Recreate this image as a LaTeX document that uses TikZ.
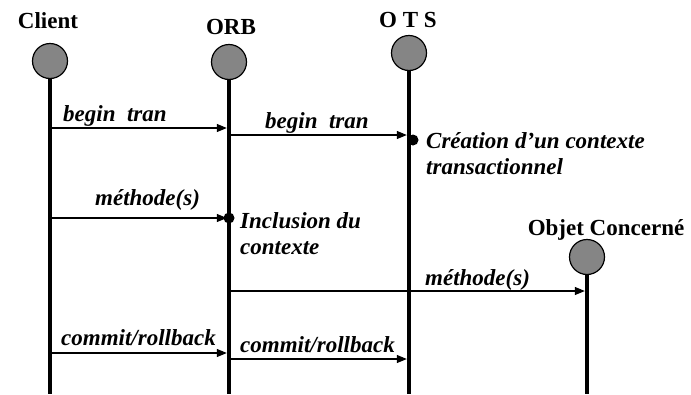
\documentclass[tikz,border=0pt]{standalone}
\usepackage{fontspec}
\setmainfont{Liberation Serif}
\usepackage{tikz}
\usetikzlibrary{arrows.meta, calc}

\begin{document}
\begin{tikzpicture}[x=1pt, y=-1pt,
  head/.style={circle, draw=black, line width=1.2pt, fill=black!48, minimum size=35pt, inner sep=0pt},
  actor/.style={anchor=base, inner sep=0pt, font=\fontsize{23}{25}\selectfont\bfseries},
  msglbl/.style={anchor=base west, inner sep=0pt, font=\fontsize{23}{25}\selectfont\bfseries\itshape},
  note/.style={anchor=base west, inner sep=0pt, align=left, font=\fontsize{23}{25.5}\selectfont\bfseries\itshape},
  life/.style={line width=4.5pt},
  msg/.style={line width=1.1pt, shorten <=2.2pt, shorten >=2.2pt, -{Triangle[length=10pt, width=8pt]}}]
  \useasboundingbox (0,0) rectangle (691,394);
  \coordinate (bottom) at (0,394);

  % Objects
  \node[actor] (clientlbl) at (48,28) {Client};
  \node[actor] (orblbl) at (231,34) {ORB};
  \node[actor] (otslbl) at (408,27) {O T S};
  \node[actor] (objlbl) at (606,235) {Objet Concern\'e};

  \node[head] (client) at (50,61) {};
  \node[head] (orb) at (229,62) {};
  \node[head] (ots) at (409,53) {};
  \node[head] (obj) at (587,257) {};

  % Lifelines
  \draw[life] (client.south) -- (client |- bottom);
  \draw[life] (orb.south) -- (orb |- bottom);
  \draw[life] (ots.south) -- (ots |- bottom);
  \draw[life] (obj.south) -- (obj |- bottom);

  % Messages
  \draw[msg] (client |- 0,128) -- (orb |- 0,128);
  \node[msglbl] (m1) at (63,121) {begin\ \ tran};
  \draw[msg] (orb |- 0,135) -- (ots |- 0,135);
  \node[msglbl] (m2) at (265,128) {begin\ \ tran};

  \draw[msg] (client |- 0,218) -- (orb |- 0,218);
  \node[msglbl] (m3) at (95,205) {m\'ethode(s)};
  \draw[msg] (orb |- 0,291) -- (obj |- 0,291);
  \node[msglbl] (m4) at (425,285) {m\'ethode(s)};

  \draw[msg] (client |- 0,353) -- (orb |- 0,353);
  \node[msglbl] (m5) at (61,345) {commit/rollback};
  \draw[msg] (orb |- 0,359) -- (ots |- 0,359);
  \node[msglbl] (m6) at (240,352) {commit/rollback};

  % Actions
  \fill ($(ots |- 0,140)+(4,0)$) circle (5.5);
  \node[note] (creation) at (426,174) {Cr\'eation d'un contexte\\transactionnel};
  \fill (orb |- 0,218) circle (5.5);
  \node[note] (inclusion) at (240,254) {Inclusion du\\contexte};
\end{tikzpicture}
\end{document}
